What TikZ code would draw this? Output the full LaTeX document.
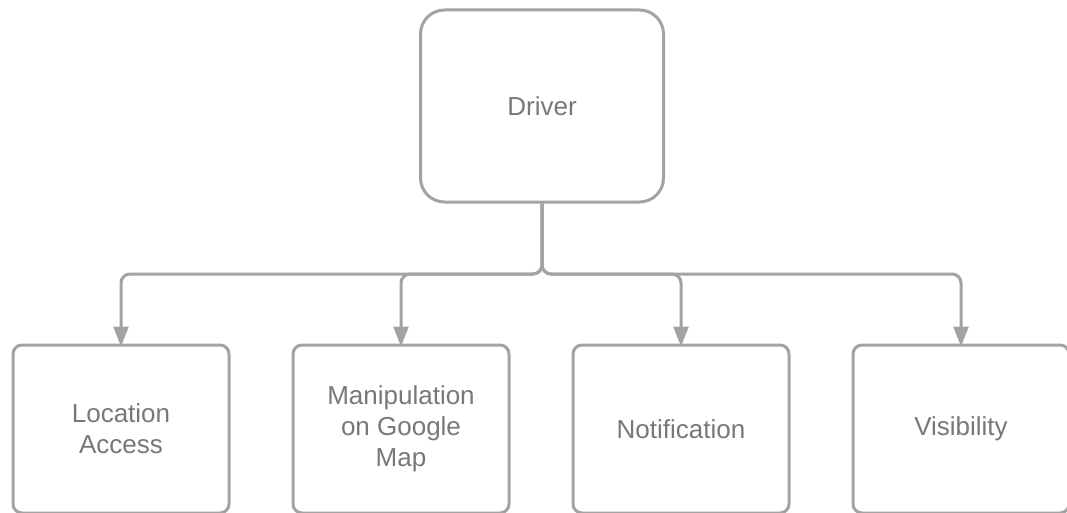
\documentclass[tikz,border=0pt]{standalone}
\usepackage{fontspec}
\setmainfont{Liberation Sans}
\usetikzlibrary{arrows.meta}
\definecolor{linegray}{HTML}{A3A3A3}
\definecolor{textgray}{HTML}{787878}
\begin{document}
\begin{tikzpicture}[x=1pt,y=-1pt,
  box/.style={draw=linegray, line width=3pt, fill=white, text=textgray,
    font=\fontsize{26}{31}\selectfont, align=center, inner sep=0pt},
  topbox/.style={box, rounded corners=24pt, minimum width=243pt, minimum height=192pt},
  leafbox/.style={box, rounded corners=9pt, minimum width=216pt, minimum height=168pt},
  link/.style={draw=linegray, line width=3pt, rounded corners=9pt,
    -{Triangle[width=15pt,length=20pt]}}
]
\useasboundingbox (0,0) rectangle (1067,513);
\fill[white] (0,0) rectangle (1067,513);
\node[topbox] (driver) at (542,106) {Driver};
\node[leafbox] (loc) at (121,429) {Location\\Access};
\node[leafbox] (man) at (401,429) {Manipulation\\on Google\\Map};
\node[leafbox] (not) at (681,429) {Notification};
\node[leafbox] (vis) at (961,429) {Visibility};
\coordinate (bus) at (542,274);
\foreach \c in {loc,man,not,vis}{
  \draw[link] (driver.south) -- (bus) -| ([yshift=-3pt]\c.north);
}
\end{tikzpicture}
\end{document}
